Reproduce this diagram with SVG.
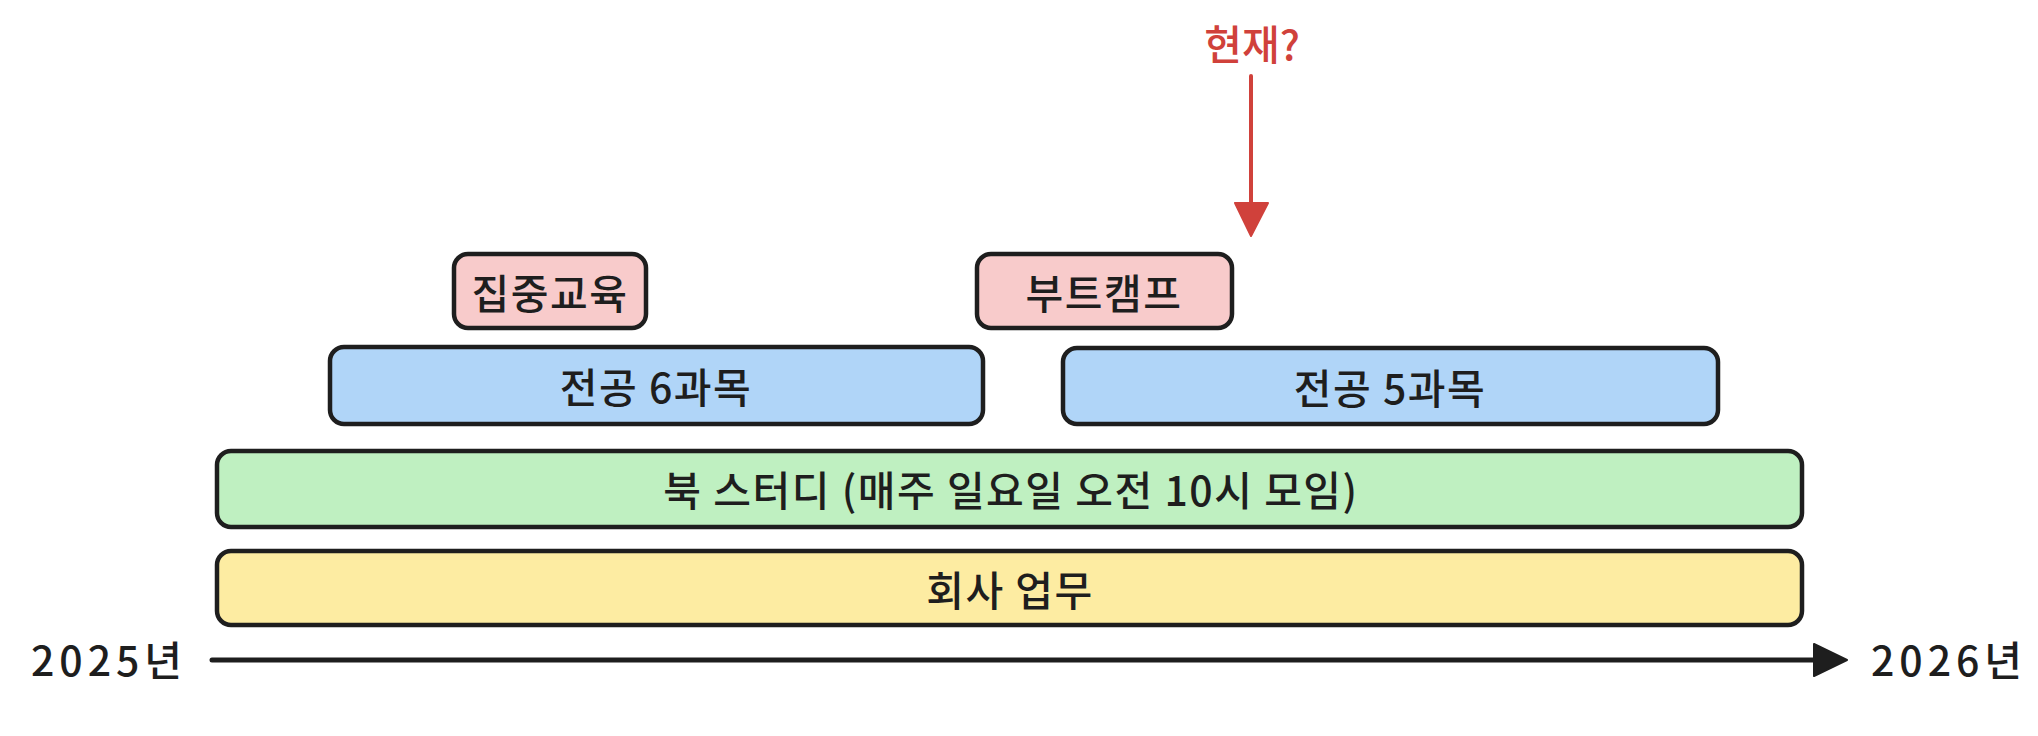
<svg xmlns="http://www.w3.org/2000/svg" width="2038" height="736" viewBox="0 0 2038 736">
  <defs>
    <style>
      .box { stroke: #1e1e1e; stroke-width: 4.5; stroke-linejoin: round; }
      .pink { fill: #f8cbcb; }
      .blue { fill: #b0d5f8; }
      .green { fill: #bff0c1; }
      .yellow { fill: #fdeca2; }
      .lbl { font-family: "Noto Sans CJK KR", "Noto Sans", sans-serif; font-size: 41px; font-weight: 500; fill: #1e1e1e; text-anchor: middle; dominant-baseline: central; letter-spacing: 1.5px; }
      .yr { letter-spacing: 5px; }
      .red { fill: #d0413b; letter-spacing: 0; }
      .conn { fill: none; stroke-linecap: round; }
    </style>
  </defs>
  <rect width="2038" height="736" fill="#ffffff"/>

  <g id="label-now">
    <text class="lbl red" x="1252" y="42">현재?</text>
  </g>

  <g id="node-jipjung">
    <rect class="box pink" x="454" y="254" width="192" height="74" rx="14"/>
    <text class="lbl" x="550" y="291">집중교육</text>
  </g>
  <g id="node-bootcamp">
    <rect class="box pink" x="977" y="254" width="255" height="74" rx="14"/>
    <text class="lbl" x="1104" y="291">부트캠프</text>
  </g>
  <g id="node-major6">
    <rect class="box blue" x="330" y="347" width="653" height="77" rx="14"/>
    <text class="lbl" x="656" y="385">전공 6과목</text>
  </g>
  <g id="node-major5">
    <rect class="box blue" x="1063" y="348" width="655" height="76" rx="14"/>
    <text class="lbl" x="1390" y="386">전공 5과목</text>
  </g>
  <g id="node-bookstudy">
    <rect class="box green" x="217" y="451" width="1585" height="76" rx="14"/>
    <text class="lbl" x="1011" y="488">북 스터디 (매주 일요일 오전 10시 모임)</text>
  </g>
  <g id="node-work">
    <rect class="box yellow" x="217" y="551" width="1585" height="74" rx="14"/>
    <text class="lbl" x="1010" y="588">회사 업무</text>
  </g>

  <g id="label-2025">
    <text class="lbl yr" x="109" y="658">2025년</text>
  </g>
  <g id="label-2026">
    <text class="lbl yr" x="1949" y="658">2026년</text>
  </g>

  <g id="connectors">
    <line class="conn" x1="1251" y1="76" x2="1251" y2="206" stroke="#d0413b" stroke-width="4"/>
    <path d="M1235,203 L1268,203 L1251,236 Z" fill="#d0413b" stroke="#d0413b" stroke-width="2" stroke-linejoin="round"/>
    <line class="conn" x1="212" y1="660" x2="1816" y2="660" stroke="#1e1e1e" stroke-width="5"/>
    <path d="M1814,644 L1847,660 L1814,676 Z" fill="#1e1e1e" stroke="#1e1e1e" stroke-width="2" stroke-linejoin="round"/>
  </g>
</svg>
